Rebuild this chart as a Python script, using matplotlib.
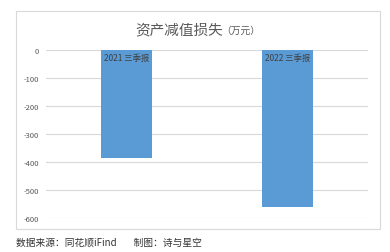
import matplotlib.pyplot as plt
from matplotlib.patches import Rectangle

plt.rcParams['font.family'] = ['Noto Sans CJK SC', 'DejaVu Sans']

# 数据
categories = ['2021 三季报', '2022 三季报']
values = [-386, -560]
yticks = [0, -100, -200, -300, -400, -500, -600]

fig = plt.figure(figsize=(3.9, 2.53), dpi=100)
# 外框
fig.patches.append(Rectangle((16 / 390, 1 - 230 / 253), 364 / 390, 218 / 253,
                             transform=fig.transFigure, fill=False,
                             edgecolor='#d9d9d9', linewidth=0.8))

ax = fig.add_axes([46 / 390, 1 - 219 / 253, 322 / 390, 168 / 253])
x = range(len(categories))
ax.bar(x, values, width=0.32, color='#5b9bd5', zorder=2)

ax.set_xlim(-0.5, 1.5)
ax.set_ylim(-600, 0)
ax.set_yticks(yticks)
ax.set_yticklabels([str(v) for v in yticks], fontsize=5.5, color='#595959')
ax.tick_params(axis='y', length=0, pad=5)
ax.set_xticks([])
ax.grid(axis='y', color='#d9d9d9', linewidth=0.8, zorder=0)
for s in ax.spines.values():
    s.set_visible(False)

# 类别标签画在 0 轴处
for i, c in enumerate(categories):
    ax.text(i, -12, c, ha='center', va='top', fontsize=6, color='#404040', zorder=3)

fig.text(223 / 390, 1 - 30 / 253, '资产减值损失', ha='right', va='center',
         fontsize=10.5, color='#595959')
fig.text(221 / 390, 1 - 31 / 253, '（万元）', ha='left', va='center',
         fontsize=7, color='#595959')
fig.text(16 / 390, 1 - 243 / 253, '数据来源：同花顺iFind        制图：诗与星空',
         ha='left', va='center', fontsize=7, color='#333333')

fig.savefig('out.png', dpi=100)
